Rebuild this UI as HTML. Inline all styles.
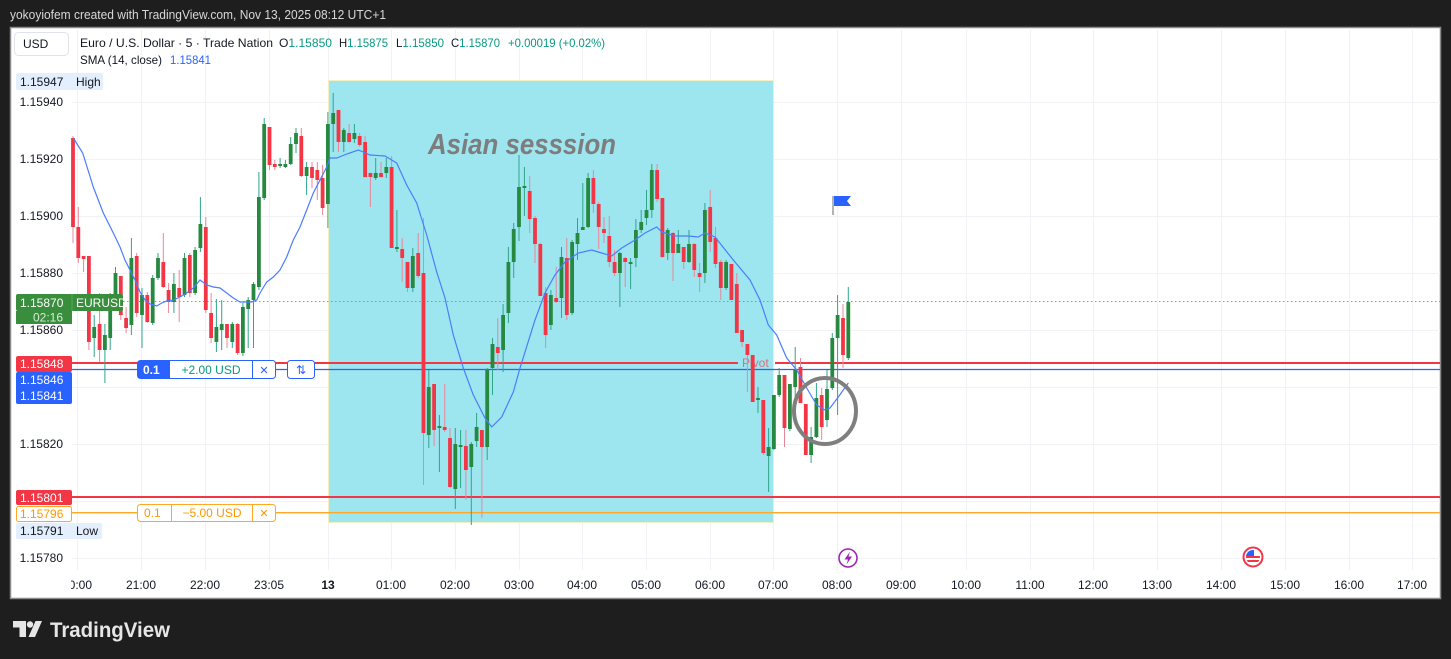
<!DOCTYPE html>
<html><head><meta charset="utf-8"><style>
html,body{margin:0;padding:0;background:#1e1e1e;width:1451px;height:659px;overflow:hidden}
svg{display:block;font-family:"Liberation Sans",sans-serif}
</style></head><body>
<svg width="1451" height="659" viewBox="0 0 1451 659" xmlns="http://www.w3.org/2000/svg">
<defs><clipPath id="ax"><rect x="71" y="570" width="1369" height="28"/></clipPath>
<clipPath id="fl"><circle cx="1253" cy="557" r="7"/></clipPath></defs>
<rect width="1451" height="659" fill="#1e1e1e"/>
<text x="10" y="19" font-size="12.5" fill="#d8d8d8" textLength="376" lengthAdjust="spacingAndGlyphs">yokoyiofem created with TradingView.com, Nov 13, 2025 08:12 UTC+1</text>
<rect x="10.5" y="27.5" width="1430" height="571" fill="#fff" stroke="#8a8a8a" stroke-width="1.5"/>
<!-- grid -->
<g stroke="#f0f2f5" stroke-width="1">
<path d="M77.5 28V570M141.5 28V570M205.5 28V570M269.5 28V570M328.5 28V570M391.5 28V570M455.5 28V570M519.5 28V570M582.5 28V570M646.5 28V570M710.5 28V570M773.5 28V570M837.5 28V570M901.5 28V570M966.5 28V570M1030.5 28V570M1093.5 28V570M1157.5 28V570M1221.5 28V570M1285.5 28V570M1349.5 28V570M1412.5 28V570"/>
<path d="M72 102.5H1440M72 159.5H1440M72 216.5H1440M72 273.5H1440M72 330.5H1440M72 387.5H1440M72 444.5H1440M72 501.5H1440M72 558.5H1440"/>
</g>
<!-- Asian session -->
<rect x="328.5" y="80.5" width="445" height="442" fill="#9ae4ee" fill-opacity="0.97" stroke="#f3efc0" stroke-width="1"/>
<text x="428" y="154" font-size="29" font-weight="bold" font-style="italic" fill="#7d7d7d" textLength="188" lengthAdjust="spacingAndGlyphs">Asian sesssion</text>
<!-- horizontal lines -->
<path d="M123 301.5H1440" stroke="#5fb865" stroke-width="1" stroke-dasharray="1.5 2.5"/>
<path d="M72 363H738M775 363H1440" stroke="#f23645" stroke-width="2"/>
<text x="742" y="367" font-size="12" fill="#f23645" fill-opacity="0.65">Pivot</text>
<path d="M72 369.5H1440" stroke="#2962ff" stroke-width="1.2"/>
<path d="M72 497H1440" stroke="#f23645" stroke-width="2"/>
<path d="M72 512.7H1440" stroke="#ffa726" stroke-width="1.3"/>
<!-- wicks -->
<path fill="none" stroke="#2fa58a" stroke-width="1" d="M94.2 315V357M104.9 324V383M110.2 293V350M115.5 267V305M131.4 238V335M142 288V348M152.7 275V325M158 253V280M173.9 273V313M184.5 253V297M195.1 247V295M200.4 197V252M216.4 299V352M221.7 300V350M232.3 322V348M242.9 303V356M248.2 297V348M253.5 282V348M258.9 172V290M264.2 118V200M280.1 158V168M285.4 160V168M290.7 137V165M296 128V153M306.6 162V195M327.9 112V228M333.2 93V152M343.8 128V152M354.4 124V143M375.7 158V180M386.3 158V178M396.9 210V252M412.8 248V292M428.8 370V448M439.4 415V472M455.3 428V509M460.6 430V488M471.3 442V525M476.6 413V447M487.2 368V460M492.5 338V395M503.1 304V372M508.4 247V323M513.7 223V278M519 155V241M524.4 167V216M550.9 290V330M561.5 247V318M572.1 240V315M577.5 218V260M582.8 183V230M588.1 173V228M619.9 252V307M630.6 258V289M635.9 219V267M641.2 210V233M646.5 190V225M651.8 164V218M667.7 228V260M678.3 230V253M689 230V263M704.9 203V283M726.1 260V290M758 387V413M768.6 428V492M773.9 395V450M779.2 368V397M789.9 384V431M795.2 347V397M811.1 427V463M816.4 383V438M827 370V427M832.3 333V390M837.6 295V415M848.3 287V360"/>
<path fill="none" stroke="#e8879a" stroke-width="1" d="M73 136V243M78.3 207V263M83.6 256V272M88.9 256V350M99.6 293V362M120.8 276V320M126.1 307V333M136.7 253V317M147.3 292V323M163.3 233V288M168.6 283V313M179.2 270V322M189.8 253V297M205.8 217V313M211.1 293V343M227 324V348M237.6 323V355M269.5 127V170M274.8 160V170M301.3 128V177M312 162V188M317.3 162V200M322.6 165V215M338.5 110V152M349.1 124V143M359.7 133V147M365.1 136V178M370.4 173V207M381 162V178M391.6 156V248M402.2 238V282M407.5 262V292M418.2 233V278M423.5 218V485M434.1 384V446M444.7 384V432M450 428V488M465.9 430V500M481.9 430V518M497.8 318V370M529.7 176V233M535 216V263M540.3 243V296M545.6 287V348M556.2 267V303M566.8 238V320M593.4 170V213M598.7 202V249M604 217V243M609.3 216V267M614.6 250V276M625.2 257V287M657.1 164V202M662.4 198V258M673 232V281M683.7 247V269M694.3 243V277M699.6 263V292M710.2 190V252M715.5 227V268M720.8 260V300M731.4 264V300M736.8 273V333M742.1 330V347M747.4 344V392M752.7 355V402M763.3 400V455M784.5 375V447M800.5 358V403M805.8 404V455M821.7 388V440M843 304V368"/>
<!-- green bodies -->
<g fill="#26893f">
<rect x="92.3" y="327" width="3.8" height="11"/><rect x="103" y="335" width="3.8" height="15"/><rect x="108.3" y="297" width="3.8" height="41"/><rect x="113.6" y="273" width="3.8" height="27"/><rect x="129.5" y="258" width="3.8" height="67"/><rect x="140.1" y="295" width="3.8" height="20"/><rect x="150.8" y="278" width="3.8" height="45"/><rect x="156.1" y="258" width="3.8" height="20"/><rect x="172" y="284" width="3.8" height="18"/><rect x="182.6" y="258" width="3.8" height="37"/><rect x="193.2" y="250" width="3.8" height="43"/><rect x="198.5" y="224" width="3.8" height="24"/><rect x="214.5" y="327" width="3.8" height="15"/><rect x="219.8" y="324" width="3.8" height="6"/><rect x="230.4" y="324" width="3.8" height="18"/><rect x="241" y="307" width="3.8" height="46"/><rect x="246.3" y="300" width="3.8" height="9"/><rect x="251.6" y="284" width="3.8" height="16"/><rect x="257" y="197" width="3.8" height="90"/><rect x="262.3" y="124" width="3.8" height="74"/><rect x="278.2" y="164" width="3.8" height="2"/><rect x="283.5" y="164" width="3.8" height="3"/><rect x="288.8" y="144" width="3.8" height="20"/><rect x="294.1" y="133" width="3.8" height="11"/><rect x="304.7" y="167" width="3.8" height="9"/><rect x="326" y="124" width="3.8" height="80"/><rect x="331.3" y="113" width="3.8" height="11"/><rect x="341.9" y="130" width="3.8" height="12"/><rect x="352.5" y="133" width="3.8" height="6"/><rect x="373.8" y="173" width="3.8" height="5"/><rect x="384.4" y="167" width="3.8" height="6"/><rect x="395" y="247" width="3.8" height="2"/><rect x="410.9" y="256" width="3.8" height="32"/><rect x="426.9" y="387" width="3.8" height="48"/><rect x="437.5" y="426" width="3.8" height="2"/><rect x="453.4" y="444" width="3.8" height="45"/><rect x="458.7" y="445" width="3.8" height="2"/><rect x="469.4" y="444" width="3.8" height="23"/><rect x="474.7" y="427" width="3.8" height="14"/><rect x="485.3" y="370" width="3.8" height="77"/><rect x="490.6" y="344" width="3.8" height="24"/><rect x="501.2" y="315" width="3.8" height="35"/><rect x="506.5" y="262" width="3.8" height="51"/><rect x="511.8" y="229" width="3.8" height="33"/><rect x="517.1" y="187" width="3.8" height="40"/><rect x="522.5" y="186" width="3.8" height="2"/><rect x="549" y="295" width="3.8" height="30"/><rect x="559.6" y="257" width="3.8" height="41"/><rect x="570.2" y="242" width="3.8" height="71"/><rect x="575.6" y="233" width="3.8" height="11"/><rect x="580.9" y="227" width="3.8" height="3"/><rect x="586.2" y="178" width="3.8" height="49"/><rect x="618" y="253" width="3.8" height="20"/><rect x="628.7" y="262" width="3.8" height="2"/><rect x="634" y="230" width="3.8" height="28"/><rect x="639.3" y="222" width="3.8" height="8"/><rect x="644.6" y="210" width="3.8" height="8"/><rect x="649.9" y="170" width="3.8" height="40"/><rect x="665.8" y="230" width="3.8" height="23"/><rect x="676.4" y="244" width="3.8" height="9"/><rect x="687.1" y="244" width="3.8" height="18"/><rect x="703" y="210" width="3.8" height="63"/><rect x="724.2" y="262" width="3.8" height="26"/><rect x="756.1" y="398" width="3.8" height="2"/><rect x="766.7" y="447" width="3.8" height="9"/><rect x="772" y="395" width="3.8" height="54"/><rect x="777.3" y="375" width="3.8" height="20"/><rect x="788" y="384" width="3.8" height="45"/><rect x="793.3" y="370" width="3.8" height="17"/><rect x="809.2" y="437" width="3.8" height="18"/><rect x="814.5" y="398" width="3.8" height="39"/><rect x="825.1" y="389" width="3.8" height="31"/><rect x="830.4" y="338" width="3.8" height="50"/><rect x="835.7" y="315" width="3.8" height="23"/><rect x="846.4" y="302" width="3.8" height="56"/>
</g>
<!-- red bodies -->
<g fill="#f23645">
<rect x="71.1" y="138" width="3.8" height="89"/><rect x="76.4" y="227" width="3.8" height="31"/><rect x="81.7" y="256" width="3.8" height="3"/><rect x="87" y="256" width="3.8" height="86"/><rect x="97.7" y="324" width="3.8" height="26"/><rect x="118.9" y="276" width="3.8" height="39"/><rect x="124.2" y="318" width="3.8" height="10"/><rect x="134.8" y="256" width="3.8" height="57"/><rect x="145.4" y="295" width="3.8" height="27"/><rect x="161.4" y="262" width="3.8" height="25"/><rect x="166.7" y="290" width="3.8" height="12"/><rect x="177.3" y="288" width="3.8" height="9"/><rect x="187.9" y="255" width="3.8" height="38"/><rect x="203.9" y="227" width="3.8" height="83"/><rect x="209.2" y="313" width="3.8" height="25"/><rect x="225.1" y="324" width="3.8" height="14"/><rect x="235.7" y="324" width="3.8" height="29"/><rect x="267.6" y="127" width="3.8" height="38"/><rect x="272.9" y="164" width="3.8" height="3"/><rect x="299.4" y="136" width="3.8" height="40"/><rect x="310.1" y="167" width="3.8" height="11"/><rect x="315.4" y="170" width="3.8" height="10"/><rect x="320.7" y="178" width="3.8" height="30"/><rect x="336.6" y="110" width="3.8" height="32"/><rect x="347.2" y="133" width="3.8" height="9"/><rect x="357.8" y="136" width="3.8" height="9"/><rect x="363.2" y="142" width="3.8" height="35"/><rect x="368.5" y="173" width="3.8" height="4"/><rect x="379.1" y="173" width="3.8" height="4"/><rect x="389.7" y="167" width="3.8" height="81"/><rect x="400.3" y="249" width="3.8" height="9"/><rect x="405.6" y="262" width="3.8" height="26"/><rect x="416.3" y="253" width="3.8" height="23"/><rect x="421.6" y="273" width="3.8" height="160"/><rect x="432.2" y="384" width="3.8" height="46"/><rect x="442.8" y="427" width="3.8" height="3"/><rect x="448.1" y="438" width="3.8" height="49"/><rect x="464" y="446" width="3.8" height="24"/><rect x="480" y="430" width="3.8" height="17"/><rect x="495.9" y="347" width="3.8" height="6"/><rect x="527.8" y="191" width="3.8" height="28"/><rect x="533.1" y="218" width="3.8" height="26"/><rect x="538.4" y="244" width="3.8" height="52"/><rect x="543.7" y="293" width="3.8" height="42"/><rect x="554.3" y="298" width="3.8" height="4"/><rect x="564.9" y="258" width="3.8" height="57"/><rect x="591.5" y="178" width="3.8" height="26"/><rect x="596.8" y="204" width="3.8" height="23"/><rect x="602.1" y="229" width="3.8" height="4"/><rect x="607.4" y="236" width="3.8" height="26"/><rect x="612.7" y="262" width="3.8" height="11"/><rect x="623.3" y="258" width="3.8" height="4"/><rect x="655.2" y="170" width="3.8" height="29"/><rect x="660.5" y="198" width="3.8" height="59"/><rect x="671.1" y="233" width="3.8" height="20"/><rect x="681.8" y="247" width="3.8" height="15"/><rect x="692.4" y="244" width="3.8" height="26"/><rect x="697.7" y="273" width="3.8" height="4"/><rect x="708.3" y="207" width="3.8" height="35"/><rect x="713.6" y="238" width="3.8" height="26"/><rect x="718.9" y="262" width="3.8" height="26"/><rect x="729.5" y="264" width="3.8" height="36"/><rect x="734.9" y="284" width="3.8" height="49"/><rect x="740.2" y="330" width="3.8" height="12"/><rect x="745.5" y="344" width="3.8" height="11"/><rect x="750.8" y="355" width="3.8" height="47"/><rect x="761.4" y="400" width="3.8" height="53"/><rect x="782.6" y="375" width="3.8" height="53"/><rect x="798.6" y="367" width="3.8" height="36"/><rect x="803.9" y="404" width="3.8" height="51"/><rect x="819.8" y="395" width="3.8" height="32"/><rect x="841.1" y="318" width="3.8" height="37"/>
</g>
<!-- SMA -->
<polyline fill="none" stroke="#4a7dff" stroke-width="1.2" points="73.3,138 82.7,153 93.3,187 103.3,213 113.3,233 120,247 125,260 130,270 135,280 140,292 145,300 150,304 156.7,306 161.7,303 166.7,301 173.3,300 180,297 186.7,293 193.3,288 200,280 206.7,285 213.3,287 220,288 226.7,293 233.3,298 240,302 246.7,302 251.7,302 256.7,300 260,293 266.7,282 273.3,277 280,270 286.7,257 293.3,240 300,227 306.7,210 313.3,193 320,180 326.7,167 330,158 336.7,158 346.7,154 358.3,150 363.3,152 370,155 385,156 396.7,163 406.7,185 416.7,203 426.7,235 436.7,272 445,298 453.3,335 463.3,368 473.3,395 485,418 491.7,427 501.7,417 513.3,392 520,368 535,320 545,293 555,275 565,262 578.3,253 591.7,250 601.7,253 611.7,256 621.7,248 635,240 645,233 656.7,227 661.7,232 675,236 688.3,236 698.3,237 705,233 715,237 733.3,260 750,280 760,300 768.3,325 776.7,335 786.7,358 796.7,370 806.7,388 816.7,405 825,410 830,408 838.3,397 848.3,383"/>
<!-- gray circle -->
<ellipse cx="825" cy="411" rx="31" ry="33" fill="none" stroke="#7f7f7f" stroke-width="4"/>
<!-- flag -->
<path d="M833 196V215" stroke="#9a9a9a" stroke-width="1.5"/>
<path d="M834 196H851L847 201L851 206H834Z" fill="#2962ff"/>
<!-- trade boxes -->
<rect x="137.5" y="360.5" width="138" height="18" rx="3" fill="#fff" stroke="#2962ff"/>
<path d="M140.5 360.5H170V378.5H140.5A3 3 0 0 1 137.5 375.5V363.5A3 3 0 0 1 140.5 360.5Z" fill="#2962ff"/>
<text x="143" y="374" font-size="12" font-weight="bold" fill="#fff">0.1</text>
<text x="211" y="374" font-size="12" fill="#089981" text-anchor="middle">+2.00 USD</text>
<path d="M252.5 361V378" stroke="#2962ff"/>
<text x="264" y="375" font-size="15" fill="#2962ff" text-anchor="middle">×</text>
<rect x="287.5" y="360.5" width="27" height="18" rx="3" fill="#fff" stroke="#2962ff"/>
<text x="301" y="374" font-size="12" fill="#2962ff" text-anchor="middle" font-family="DejaVu Sans,sans-serif">⇅</text>
<rect x="137.5" y="504.5" width="138" height="17" rx="3" fill="#fff" stroke="#ffa726"/>
<text x="144" y="517" font-size="12" fill="#ff9800">0.1</text>
<path d="M171.5 505V521M252.5 505V521" stroke="#ffa726"/>
<text x="212" y="517" font-size="12" fill="#ff9800" text-anchor="middle">−5.00 USD</text>
<text x="264" y="518" font-size="15" fill="#ff9800" text-anchor="middle">×</text>
<!-- price labels -->
<g font-size="12" fill="#131722" text-anchor="end">
<text x="63" y="106">1.15940</text><text x="63" y="163">1.15920</text><text x="63" y="220">1.15900</text><text x="63" y="277">1.15880</text><text x="63" y="334">1.15860</text><text x="63" y="448">1.15820</text><text x="63" y="562">1.15780</text>
</g>
<g font-size="12">
<rect x="16" y="73" width="87" height="17" rx="2" fill="#e3effd"/>
<text x="20" y="86" fill="#131722">1.15947</text><text x="76" y="86" fill="#131722">High</text>
<rect x="16" y="294" width="107" height="17" rx="2" fill="#388e3c"/>
<path d="M72 294V311" stroke="#5aa85d"/>
<text x="20" y="307" fill="#fff">1.15870</text><text x="76" y="307" fill="#fff">EURUSD</text>
<rect x="16" y="311" width="56" height="13" fill="#388e3c"/>
<text x="63" y="321.5" fill="#d6ecd6" text-anchor="end">02:16</text>
<rect x="16" y="356" width="56" height="16" rx="2" fill="#f23645"/>
<text x="20" y="368" fill="#fff">1.15848</text>
<rect x="16" y="372" width="56" height="32" rx="2" fill="#2962ff"/>
<text x="20" y="384" fill="#fff">1.15846</text>
<text x="20" y="400" fill="#fff">1.15841</text>
<rect x="16" y="490" width="56" height="15" rx="2" fill="#f23645"/>
<text x="20" y="502" fill="#fff">1.15801</text>
<rect x="16.5" y="506.5" width="55" height="15" rx="2" fill="#fff" stroke="#ffa726"/>
<text x="20" y="518" fill="#ff9800">1.15796</text>
<rect x="16" y="523" width="86" height="16" rx="2" fill="#e3effd"/>
<text x="20" y="535" fill="#131722">1.15791</text><text x="76" y="535" fill="#131722">Low</text>
</g>
<!-- time axis -->
<g font-size="12" fill="#131722" text-anchor="middle" clip-path="url(#ax)">
<text x="77" y="589">20:00</text><text x="141" y="589">21:00</text><text x="205" y="589">22:00</text><text x="269" y="589">23:05</text><text x="328" y="589" font-weight="bold">13</text><text x="391" y="589">01:00</text><text x="455" y="589">02:00</text><text x="519" y="589">03:00</text><text x="582" y="589">04:00</text><text x="646" y="589">05:00</text><text x="710" y="589">06:00</text><text x="773" y="589">07:00</text><text x="837" y="589">08:00</text><text x="901" y="589">09:00</text><text x="966" y="589">10:00</text><text x="1030" y="589">11:00</text><text x="1093" y="589">12:00</text><text x="1157" y="589">13:00</text><text x="1221" y="589">14:00</text><text x="1285" y="589">15:00</text><text x="1349" y="589">16:00</text><text x="1412" y="589">17:00</text>
</g>
<!-- event icons -->
<circle cx="848" cy="558" r="9" fill="#fff" stroke="#9c27b0" stroke-width="1.6"/>
<path d="M850 551.5L844.5 559.5H848L846.5 564.5L852 556.5H848.5Z" fill="#9c27b0"/>
<circle cx="1253" cy="557" r="9.5" fill="#fff" stroke="#f23645" stroke-width="2"/>
<g clip-path="url(#fl)">
<rect x="1245" y="549" width="16" height="16" fill="#fff"/>
<rect x="1245" y="556" width="16" height="2" fill="#f23645"/>
<rect x="1245" y="560" width="16" height="2" fill="#f23645"/>
<rect x="1245" y="549" width="9" height="7" fill="#2962ff"/>
</g>
<!-- legend -->
<rect x="14.5" y="32.5" width="54" height="23" rx="4" fill="#fff" stroke="#e0e3eb"/>
<text x="23" y="48" font-size="12" fill="#131722">USD</text>
<g font-size="12" fill="#131722">
<text x="80" y="47" textLength="193" lengthAdjust="spacingAndGlyphs">Euro / U.S. Dollar · 5 · Trade Nation</text>
<text x="279" y="47" textLength="53" lengthAdjust="spacingAndGlyphs">O<tspan fill="#089981">1.15850</tspan></text>
<text x="339" y="47" textLength="49" lengthAdjust="spacingAndGlyphs">H<tspan fill="#089981">1.15875</tspan></text>
<text x="396" y="47" textLength="48" lengthAdjust="spacingAndGlyphs">L<tspan fill="#089981">1.15850</tspan></text>
<text x="451" y="47" textLength="49" lengthAdjust="spacingAndGlyphs">C<tspan fill="#089981">1.15870</tspan></text>
<text x="508" y="47" fill="#089981" textLength="97" lengthAdjust="spacingAndGlyphs">+0.00019 (+0.02%)</text>
<text x="80" y="64" textLength="82" lengthAdjust="spacingAndGlyphs">SMA (14, close)</text>
<text x="170" y="64" fill="#2962ff" textLength="41" lengthAdjust="spacingAndGlyphs">1.15841</text>
</g>
<!-- logo -->
<g fill="#e6e6e6">
<path d="M13 621H26V637H19.5V627.5H13Z"/>
<circle cx="30" cy="624.5" r="3.2"/>
<path d="M28.5 637L35.5 621H42L35 637Z"/>
<text x="50" y="637" font-size="21" font-weight="bold" textLength="120" lengthAdjust="spacingAndGlyphs">TradingView</text>
</g>
</svg>
</body></html>
